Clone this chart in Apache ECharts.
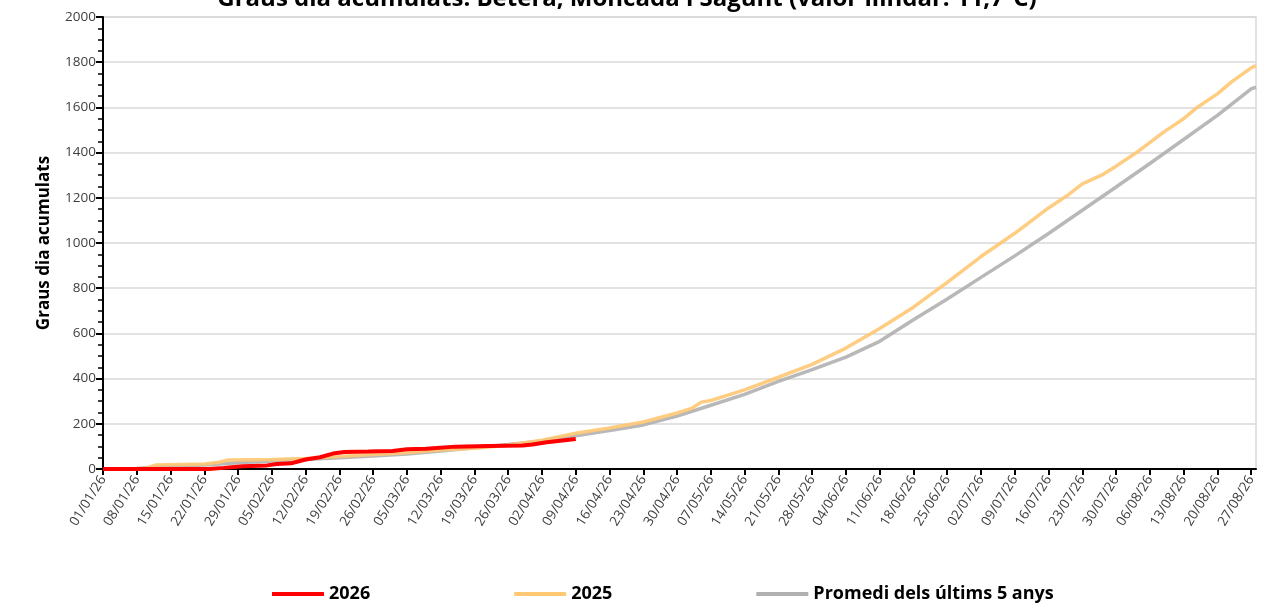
<!DOCTYPE html>
<html>
<head>
<meta charset="utf-8">
<script src="https://cdn.jsdelivr.net/npm/echarts@6/dist/echarts.min.js"></script>
<style>
  html, body { margin: 0; padding: 0; background: #fff; }
  #chart { width: 1264px; height: 605px; }
</style>
</head>
<body>
<div id="chart"></div>
<script>
// dies des de l'1 de gener (index de categoria) i graus dia acumulats llegits del gràfic
const dies2026 = [0, 22, 25, 29, 34, 36, 39, 42, 45, 48, 50, 55, 60, 63, 67, 73, 80, 87, 89, 92, 98]
const graus2026 = [0, 0, 5, 12, 16, 22, 25, 42, 52, 70, 75, 77, 80, 87, 90, 99, 102, 104, 108, 118, 133]

const dies2025 = [0, 7, 9, 11, 21, 24, 26, 35, 42, 49, 56, 63, 70, 77, 84, 91, 98, 105, 112, 119, 122, 124, 126,
  133, 140, 147, 154, 161, 168, 175, 182, 189, 196, 200, 203, 207, 210, 214, 220, 224, 227, 231, 234, 238, 239]
const graus2025 = [0, 2, 4, 18, 22, 30, 40, 42, 46, 55, 64, 72, 84, 92, 105, 127, 158, 181, 208, 248, 268, 296, 303,
  350, 406, 463, 535, 622, 716, 826, 940, 1043, 1155, 1212, 1262, 1300, 1340, 1397, 1493, 1550, 1603, 1660, 1714, 1775, 1785]

const diesPromedi = [0, 7, 10, 14, 21, 28, 35, 42, 49, 56, 63, 70, 77, 84, 91, 98, 105, 112, 119, 126,
  133, 140, 147, 154, 161, 168, 175, 182, 189, 196, 203, 210, 217, 224, 231, 238, 239]
const grausPromedi = [0, 2, 8, 12, 18, 28, 35, 42, 50, 58, 66, 80, 94, 108, 124, 147, 170, 195, 234, 282,
  330, 388, 440, 495, 565, 660, 752, 848, 943, 1042, 1145, 1248, 1352, 1458, 1565, 1682, 1690]

const nomsSeries = ['2026', '2025', 'Promedi dels últims 5 anys']

// categories: un dia per categoria, de l'01/01/26 al 28/08/26
const dates = []
for (let i = 0; i < 240; i++) {
  const d = new Date(Date.UTC(2026, 0, 1 + i))
  const dd = String(d.getUTCDate()).padStart(2, '0')
  const mm = String(d.getUTCMonth() + 1).padStart(2, '0')
  dates.push(dd + '/' + mm + '/26')
}

function pairs (dies, vals) {
  return dies.map((d, i) => [dates[d], vals[i]])
}

const font = "'Open Sans', 'Liberation Sans', sans-serif"

const chart = echarts.init(document.getElementById('chart'))
const option = {
  animation: false,
  textStyle: { fontFamily: font },
  title: {
    text: 'Graus dia acumulats: Bètera, Moncada i Sagunt (valor llindar: 11,7ºC)',
    left: 622,
    textAlign: 'center',
    top: -18,
    textStyle: { fontSize: 24, fontWeight: 'bold', color: '#000', fontFamily: font }
  },
  legend: {
    left: 267,
    top: 580,
    itemWidth: 52,
    itemHeight: 4,
    itemGap: 144,
    icon: 'rect',
    textStyle: { fontSize: 18, fontWeight: 'bold', color: '#000', fontFamily: font },
    data: nomsSeries
  },
  grid: {
    left: 103,
    right: 8,
    top: 17,
    bottom: 136,
    show: true,
    borderColor: '#D9D9D9',
    borderWidth: 1.5
  },
  xAxis: {
    type: 'category',
    boundaryGap: false,
    data: dates,
    axisLine: { lineStyle: { color: '#000', width: 2 } },
    axisTick: { interval: 6, length: 6, lineStyle: { color: '#000', width: 2 } },
    axisLabel: {
      interval: 6,
      rotate: 58,
      fontSize: 13.5,
      color: '#404040',
      margin: 8,
      fontFamily: font
    },
    splitLine: { show: false }
  },
  yAxis: {
    type: 'value',
    min: 0,
    max: 2000,
    interval: 200,
    name: 'Graus dia acumulats',
    nameLocation: 'middle',
    nameGap: 50,
    nameTextStyle: { fontSize: 17, fontWeight: 'bold', color: '#000', fontFamily: font },
    axisLine: { show: true, lineStyle: { color: '#000', width: 2 } },
    axisTick: { show: true, length: 7, lineStyle: { color: '#000', width: 2 } },
    minorTick: { show: true, splitNumber: 4, length: 5, lineStyle: { color: '#000', width: 1.5 } },
    axisLabel: {
      fontSize: 13.5,
      color: '#404040',
      margin: 7,
      fontFamily: font,
      formatter: v => String(v)
    },
    splitLine: { lineStyle: { color: '#D9D9D9', width: 1.5 } }
  },
  series: [
    {
      name: nomsSeries[0],
      type: 'line',
      data: pairs(dies2026, graus2026),
      showSymbol: false,
      z: 4,
      itemStyle: { color: '#FF0000' },
      lineStyle: { color: '#FF0000', width: 4 }
    },
    {
      name: nomsSeries[1],
      type: 'line',
      data: pairs(dies2025, graus2025),
      showSymbol: false,
      z: 3,
      itemStyle: { color: '#FFC874' },
      lineStyle: { color: '#FFC874', width: 3.5, opacity: 0.9 }
    },
    {
      name: nomsSeries[2],
      type: 'line',
      data: pairs(diesPromedi, grausPromedi),
      showSymbol: false,
      z: 2,
      itemStyle: { color: '#B0B0B0' },
      lineStyle: { color: '#B0B0B0', width: 3.5, opacity: 0.9 }
    }
  ]
}
chart.setOption(option)
</script>
</body>
</html>
